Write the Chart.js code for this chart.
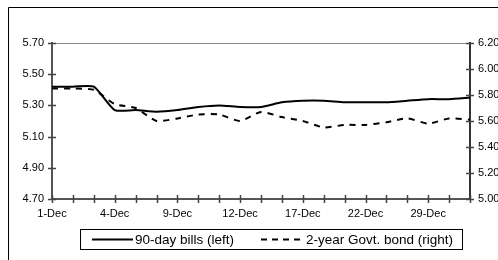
<!DOCTYPE html>
<html>
<head>
<meta charset="utf-8">
<script src="https://cdn.jsdelivr.net/npm/chart.js@4/dist/chart.umd.min.js"></script>
<style>
html,body{margin:0;padding:0;background:#fff;}
#wrap{position:relative;width:498px;height:260px;}
</style>
</head>
<body>
<div id="wrap"><canvas id="c" width="498" height="260"></canvas></div>
<script>
const categories = ['1-Dec','2-Dec','3-Dec','4-Dec','5-Dec','8-Dec','9-Dec','10-Dec','11-Dec','12-Dec','15-Dec','16-Dec','17-Dec','18-Dec','19-Dec','22-Dec','23-Dec','24-Dec','29-Dec','30-Dec','31-Dec'];
const bills90 = [5.42,5.42,5.42,5.27,5.27,5.26,5.27,5.29,5.30,5.29,5.29,5.32,5.33,5.33,5.32,5.32,5.32,5.33,5.34,5.34,5.35];
const bond2y = [5.85,5.85,5.84,5.73,5.70,5.60,5.62,5.65,5.65,5.60,5.67,5.63,5.60,5.55,5.57,5.57,5.59,5.62,5.58,5.62,5.61];
const seriesNames = ['90-day bills (left)','2-year Govt. bond (right)'];

const FONT = {family:'"Liberation Sans", Arial, sans-serif', size:11};

const decor = {
  id:'decor',
  beforeDraw(chart){
    const ctx = chart.ctx;
    ctx.save();
    ctx.fillStyle = '#fff';
    ctx.fillRect(0,0,chart.width,chart.height);
    ctx.restore();
  },
  afterDraw(chart){
    const ctx = chart.ctx, a = chart.chartArea;
    const x = chart.scales.x, y = chart.scales.y, y2 = chart.scales.y2;
    ctx.save();
    // outer frame
    ctx.strokeStyle = '#000'; ctx.lineWidth = 1;
    ctx.beginPath();
    ctx.moveTo(8.5,260); ctx.lineTo(8.5,7.5); ctx.lineTo(498,7.5);
    ctx.stroke();
    // top plot border
    ctx.strokeStyle = '#888'; ctx.lineWidth = 1;
    ctx.beginPath(); ctx.moveTo(a.left, Math.round(a.top)+0.5); ctx.lineTo(a.right, Math.round(a.top)+0.5); ctx.stroke();
    // tick marks (cross)
    ctx.strokeStyle = '#444'; ctx.lineWidth = 1.5;
    ctx.beginPath();
    x.ticks.forEach((t,i)=>{ const px = Math.round(x.getPixelForTick(i))+0.5; ctx.moveTo(px,a.bottom-4); ctx.lineTo(px,a.bottom+4); });
    y.ticks.forEach((t,i)=>{ const py = Math.round(y.getPixelForTick(i))+0.5; ctx.moveTo(a.left-4,py); ctx.lineTo(a.left+4,py); });
    y2.ticks.forEach((t,i)=>{ const py = Math.round(y2.getPixelForTick(i))+0.5; ctx.moveTo(a.right-4,py); ctx.lineTo(a.right+4,py); });
    ctx.stroke();
    // legend
    ctx.fillStyle = '#fff';
    ctx.fillRect(80,229,382,20);
    ctx.strokeStyle = '#000'; ctx.lineWidth = 1;
    ctx.strokeRect(80.5,229.5,382,20);
    ctx.lineWidth = 2;
    ctx.beginPath(); ctx.moveTo(92,239.5); ctx.lineTo(133,239.5); ctx.stroke();
    ctx.setLineDash([6,5]);
    ctx.beginPath(); ctx.moveTo(261,239.5); ctx.lineTo(305,239.5); ctx.stroke();
    ctx.setLineDash([]);
    ctx.fillStyle = '#000';
    ctx.font = '13.5px "Liberation Sans", Arial, sans-serif';
    ctx.textBaseline = 'middle'; ctx.textAlign = 'left';
    ctx.fillText(seriesNames[0], 135, 240);
    ctx.fillText(seriesNames[1], 306, 240);
    ctx.restore();
  }
};

new Chart(document.getElementById('c'), {
  type:'line',
  data:{
    labels: categories,
    datasets:[
      {label:seriesNames[0], data:bills90, yAxisID:'y', borderColor:'#000', borderWidth:2, pointRadius:0, tension:0.2, fill:false},
      {label:seriesNames[1], data:bond2y, yAxisID:'y2', borderColor:'#000', borderWidth:2, borderDash:[6,6], pointRadius:0, tension:0.2, fill:false}
    ]
  },
  options:{
    responsive:false, animation:false, devicePixelRatio:1,
    layout:{padding:{top:43,left:0,right:0,bottom:0}},
    plugins:{legend:{display:false}, tooltip:{enabled:false}},
    scales:{
      x:{
        offset:false,
        grid:{display:false, drawTicks:false},
        border:{display:true, color:'#555', width:2},
        ticks:{autoSkip:false, maxRotation:0, minRotation:0, padding:8, color:'#000', font:FONT,
          callback:(v,i)=> i%3===0 ? categories[i] : ''},
        afterFit(s){ s.height = 61; }
      },
      y:{
        position:'left', min:4.7, max:5.7,
        grid:{display:false, drawTicks:false},
        border:{display:true, color:'#555', width:2},
        ticks:{stepSize:0.2, padding:8, color:'#000', font:FONT, callback:v=>Number(v).toFixed(2)},
        afterFit(s){ s.width = 52; }
      },
      y2:{
        position:'right', min:5.0, max:6.2,
        grid:{display:false, drawTicks:false},
        border:{display:true, color:'#333', width:2},
        ticks:{stepSize:0.2, padding:8, color:'#000', font:FONT, callback:v=>Number(v).toFixed(2)},
        afterFit(s){ s.width = 28; }
      }
    }
  },
  plugins:[decor]
});
</script>
</body>
</html>
